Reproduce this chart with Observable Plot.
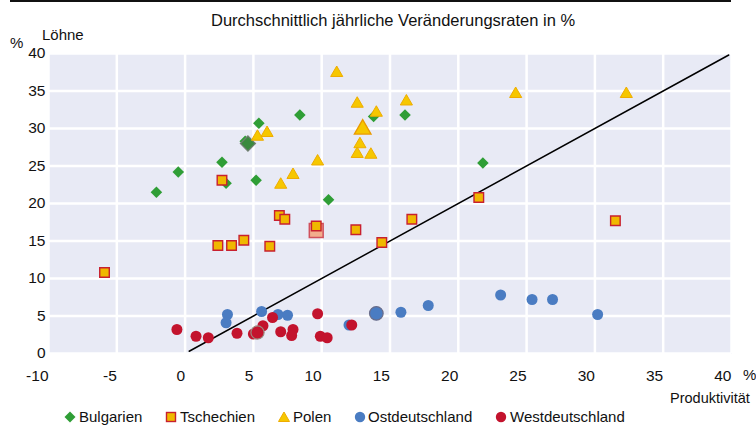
<!DOCTYPE html>
<html>
<head>
<meta charset="utf-8">
<script src="https://cdn.jsdelivr.net/npm/d3@7"></script>
<script src="https://cdn.jsdelivr.net/npm/@observablehq/plot@0.6"></script>
<style>
  body { margin: 0; background: #fff; font-family: "Liberation Sans", Arial, sans-serif; }
  #wrap { position: relative; width: 756px; height: 425px; overflow: hidden; }
  #wrap svg.plot { position: absolute; left: 0; top: 0; }
  .lbl { position: absolute; font-size: 15px; color: #111; white-space: nowrap; line-height: 1; }
  #legend { position: absolute; top: 408px; left: 0; font-size: 15px; color: #111; }
  #legend .it { position: absolute; white-space: nowrap; line-height: 1; }
  #legend svg { position: absolute; }
</style>
</head>
<body>
<div id="wrap"></div>
<script>
// Values (x = Produktivität, y = Löhne, % per year)
const bulgarienX = [-2.1, -0.5, 2.7, 3.0, 5.2, 4.4, 5.4, 8.4, 10.5, 13.8, 16.1, 21.8];
const bulgarienY = [21.5, 24.2, 25.5, 22.7, 23.1, 28.3, 30.7, 31.8, 20.5, 31.6, 31.8, 25.4];
const bulgarienAvgX = [4.6];
const bulgarienAvgY = [28.0];

const tschechienX = [-5.9, 2.4, 3.4, 4.3, 6.2, 6.9, 7.3, 9.6, 12.5, 14.4, 2.7, 16.6, 21.5, 31.5];
const tschechienY = [10.8, 14.4, 14.4, 15.1, 14.3, 18.4, 17.9, 17.0, 16.5, 14.8, 23.1, 17.9, 20.8, 17.7];
const tschechienAvgX = [9.6];
const tschechienAvgY = [16.4];

const polenX = [11.1, 12.6, 14.0, 12.8, 12.6, 13.6, 9.7, 7.9, 7.0, 5.3, 6.0, 16.2, 24.2, 32.3];
const polenY = [37.4, 33.3, 32.1, 27.9, 26.6, 26.5, 25.6, 23.8, 22.5, 28.9, 29.4, 33.6, 34.6, 34.6];
const polenAvgX = [13.0];
const polenAvgY = [29.9];

const ostX = [3.1, 3.0, 5.6, 6.8, 7.5, 12.0, 15.8, 17.8, 23.1, 25.4, 26.9, 30.2];
const ostY = [5.2, 4.1, 5.6, 5.2, 5.1, 3.8, 5.5, 6.4, 7.8, 7.2, 7.2, 5.2];
const ostAvgX = [14.0];
const ostAvgY = [5.35];

const westX = [-0.6, 0.8, 1.7, 3.8, 5.0, 5.7, 6.4, 7.0, 7.9, 7.8, 9.7, 9.9, 10.4, 12.2];
const westY = [3.2, 2.3, 2.1, 2.7, 2.6, 3.7, 4.8, 2.9, 3.2, 2.4, 5.3, 2.3, 2.1, 3.8];
const westAvgX = [5.3];
const westAvgY = [2.8];

const lineX = [0.3, 39.8];
const lineY = [0.3, 39.8];

const xTicks = [-10, -5, 0, 5, 10, 15, 20, 25, 30, 35, 40];
const yTicks = [0, 5, 10, 15, 20, 25, 30, 35, 40];

const seriesNames = ["Bulgarien", "Tschechien", "Polen", "Ostdeutschland", "Westdeutschland"];
const titleText = "Durchschnittlich jährliche Veränderungsraten in %";

const C = {
  green: "#2f9e36", yellow: "#f6c700", yellowStroke: "#eeac00",
  sqFill: "#f0b800", sqStroke: "#c8202f", blue: "#4a7cc2", red: "#c3132d",
  bg: "#e8eaf5"
};

const pts = (X) => ({length: X.length});

const plot = Plot.plot({
  width: 756,
  height: 425,
  marginLeft: 48,
  marginRight: 25,
  marginTop: 53,
  marginBottom: 72,
  style: {fontFamily: "'Liberation Sans', Arial, sans-serif", fontSize: "15px", color: "#111", background: "transparent"},
  x: {domain: [-10, 40], ticks: xTicks, label: null},
  y: {domain: [0, 40], ticks: yTicks, label: null},
  marks: [
    Plot.frame({fill: C.bg, stroke: null}),
    Plot.gridX(xTicks, {stroke: "#fff", strokeOpacity: 1, strokeWidth: 2.5}),
    Plot.gridY(yTicks, {stroke: "#fff", strokeOpacity: 1, strokeWidth: 2.5}),
    Plot.axisY(yTicks, {tickSize: 0, tickPadding: 3, fontSize: 15.5, fill: "#111"}),
    Plot.axisX(xTicks, {tickSize: 0, tickPadding: 16, textAnchor: "end", dx: 0, fontSize: 15.5, fill: "#111", tickFormat: d => d < 0 ? "-" + Math.abs(d) : String(d)}),
    Plot.line({length: 2}, {x: lineX, y: lineY, stroke: "#000", strokeWidth: 1.5}),
    // Bulgarien
    Plot.dot(pts(bulgarienX), {x: bulgarienX, y: bulgarienY, symbol: "diamond2", r: 5.2, fill: C.green, stroke: null}),
    Plot.dot(pts(bulgarienAvgX), {x: bulgarienAvgX, y: bulgarienAvgY, symbol: "diamond2", r: 6.8, fill: "#3a8a3e", stroke: "#6f7f70", strokeWidth: 1.2}),
    // Tschechien
    Plot.dot(pts(tschechienAvgX), {x: tschechienAvgX, y: tschechienAvgY, symbol: "square", r: 7.8, fill: "#f2ad8c", stroke: "#d0505c", strokeWidth: 1.5}),
    Plot.dot(pts(tschechienX), {x: tschechienX, y: tschechienY, symbol: "square", r: 5.4, fill: C.sqFill, stroke: C.sqStroke, strokeWidth: 1.4}),
    // Polen
    Plot.dot(pts(polenX), {x: polenX, y: polenY, symbol: "triangle", r: 4.5, fill: C.yellow, stroke: C.yellowStroke, strokeWidth: 1}),
    Plot.dot(pts(polenAvgX), {x: polenAvgX, y: polenAvgY, symbol: "triangle", r: 6.2, fill: C.yellow, stroke: "#ea9a00", strokeWidth: 1.3}),
    // Ostdeutschland
    Plot.dot(pts(ostX), {x: ostX, y: ostY, symbol: "circle", r: 5.5, fill: C.blue, stroke: null}),
    Plot.dot(pts(ostAvgX), {x: ostAvgX, y: ostAvgY, symbol: "circle", r: 6.8, fill: C.blue, stroke: "#6a6d8a", strokeWidth: 1.2}),
    // Westdeutschland
    Plot.dot(pts(westX), {x: westX, y: westY, symbol: "circle", r: 5.5, fill: C.red, stroke: null}),
    Plot.dot(pts(westAvgX), {x: westAvgX, y: westAvgY, symbol: "circle", r: 6.6, fill: C.red, stroke: "#9b8a80", strokeWidth: 1.2})
  ]
});
plot.classList.add("plot");

const wrap = document.getElementById("wrap");
wrap.appendChild(plot);

function addLabel(text, left, top, extra) {
  const d = document.createElement("div");
  d.className = "lbl";
  d.textContent = text;
  d.style.left = left + "px";
  d.style.top = top + "px";
  if (extra) Object.assign(d.style, extra);
  wrap.appendChild(d);
  return d;
}

// top rule
const rule = document.createElement("div");
Object.assign(rule.style, {position: "absolute", left: "10px", top: "0px", width: "721px", height: "1.5px", background: "#111"});
wrap.appendChild(rule);

addLabel(titleText, 211, 12, {fontSize: "16.5px"});
addLabel("%", 10, 35);
addLabel("Löhne", 42, 27);
addLabel("%", 743, 367);
addLabel("Produktivität", 670, 391, {fontSize: "14.5px"});

// legend
const legend = document.createElement("div");
legend.id = "legend";
wrap.appendChild(legend);
const legendPos = [
  {sx: 70, tx: 79}, {sx: 171, tx: 180}, {sx: 284, tx: 293}, {sx: 360, tx: 368}, {sx: 501, tx: 510}
];
const legendSym = [
  `<path d="M6,0.5 L11.5,6 L6,11.5 L0.5,6 Z" fill="${C.green}"/>`,
  `<rect x="1.5" y="1.5" width="9" height="9" fill="${C.sqFill}" stroke="${C.sqStroke}" stroke-width="1.4"/>`,
  `<path d="M6,1 L11.5,10.5 L0.5,10.5 Z" fill="${C.yellow}" stroke="${C.yellowStroke}" stroke-width="1"/>`,
  `<circle cx="6" cy="6" r="5.2" fill="${C.blue}"/>`,
  `<circle cx="6" cy="6" r="5.2" fill="${C.red}"/>`
];
seriesNames.forEach((name, i) => {
  const s = document.createElementNS("http://www.w3.org/2000/svg", "svg");
  s.setAttribute("width", 12); s.setAttribute("height", 12);
  s.style.left = (legendPos[i].sx - 6) + "px";
  s.style.top = "3px";
  s.innerHTML = legendSym[i];
  legend.appendChild(s);
  const t = document.createElement("div");
  t.className = "it";
  t.textContent = name;
  t.style.left = legendPos[i].tx + "px";
  t.style.top = "1px";
  legend.appendChild(t);
});
</script>
</body>
</html>
